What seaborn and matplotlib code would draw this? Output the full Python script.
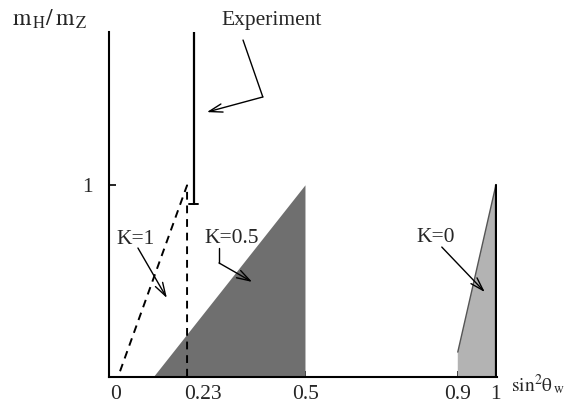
import matplotlib
matplotlib.use("Agg")
import matplotlib.pyplot as plt
import seaborn as sns

# ---- data ----
x_ticks = [0, 0.23, 0.5, 0.9, 1]
x_tick_labels = ["0", "0.23", "0.5", "0.9", "1"]
y_ticks = [1]
y_tick_labels = ["1"]

k1_x = [0.013, 0.189, 0.189]          # K=1 dashed boundary
k1_y = [0.03, 1.0, 0.0]
k05_x = [0.102, 0.5, 0.5]             # K=0.5 allowed region
k05_y = [0.0, 1.0, 0.0]
k0_x = [0.9, 0.9, 1.0, 1.0]           # K=0 allowed region
k0_y = [0.0, 0.13, 1.0, 0.0]
exp_x = [0.207, 0.207]                # experimental value
exp_y = [0.905, 1.8]

sns.set_theme(style="white")
plt.rcParams["font.family"] = ["Liberation Serif", "DejaVu Serif"]
plt.rcParams["mathtext.fontset"] = "stix"

W, H = 570, 408
fig = plt.figure(figsize=(W / 100, H / 100), dpi=100)
ax = fig.add_axes([109 / W, (H - 377) / H, (497 - 109) / W, (377 - 32) / H])
ax.set_xlim(-0.016, 1.003)
ax.set_ylim(0, 1.8)

line_kw = dict(ax=ax, sort=False, estimator=None, legend=False)

# regions
ax.fill(k05_x, k05_y, color="#6f6f6f", lw=0)
ax.fill(k0_x, k0_y, color="#b3b3b3", lw=0)
sns.lineplot(x=k0_x[1:3], y=k0_y[1:3], color="#555555", lw=1.0, **line_kw)
sns.lineplot(x=k0_x[2:4], y=k0_y[2:4], color="black", lw=1.6, **line_kw)

# K=1 dashed
sns.lineplot(x=k1_x, y=k1_y, color="black", lw=1.4, linestyle=(0, (4, 3)), **line_kw)

# experiment line with cap
sns.lineplot(x=exp_x, y=exp_y, color="black", lw=1.6, **line_kw)
ax.plot([exp_x[0] - 0.012, exp_x[0] + 0.012], [exp_y[0], exp_y[0]], color="black", lw=1.4)

# axes styling
for s in ["top", "right"]:
    ax.spines[s].set_visible(False)
for s in ["left", "bottom"]:
    ax.spines[s].set_color("black")
    ax.spines[s].set_linewidth(1.5)
ax.set_xticks(x_ticks)
ax.set_xticklabels(x_tick_labels, fontsize=15.5)
ax.set_yticks(y_ticks)
ax.set_yticklabels(y_tick_labels, fontsize=15.5)
ax.tick_params(axis="x", direction="in", length=4, width=1.2, color="black",
               bottom=True, pad=6)
ax.tick_params(axis="y", direction="in", length=5, width=1.2, color="black",
               left=True, pad=12)
ax.xaxis.get_major_ticks()[0].tick1line.set_visible(False)
ax.set_xlabel("")
ax.set_ylabel("")

# annotations
FS = 15.5
arrow = dict(arrowstyle="->,head_length=0.8,head_width=0.25", color="black", lw=1.0,
             shrinkA=0, shrinkB=0)
ax.text(0.412, 1.86, "Experiment", fontsize=FS, ha="center", va="center", clip_on=False)
ax.plot([0.336, 0.388], [1.758, 1.461], color="black", lw=1.0)
ax.annotate("", xy=(0.241, 1.382), xytext=(0.388, 1.461), arrowprops=arrow)

ax.text(0.055, 0.715, "K=1", fontsize=FS, ha="center", va="center")
ax.annotate("", xy=(0.136, 0.412), xytext=(0.060, 0.673), arrowprops=arrow)

ax.text(0.307, 0.725, "K=0.5", fontsize=FS, ha="center", va="center")
ax.plot([0.273, 0.273], [0.673, 0.595], color="black", lw=1.0)
ax.annotate("", xy=(0.360, 0.496), xytext=(0.273, 0.595), arrowprops=arrow)

ax.text(0.843, 0.730, "K=0", fontsize=FS, ha="center", va="center")
ax.annotate("", xy=(0.971, 0.443), xytext=(0.858, 0.678), arrowprops=arrow)

# axis titles
fig.text(12 / W, 1 - 19 / H, r"$\mathrm{m_{\,H}/\,m_{\,Z}}$", fontsize=17, ha="left", va="center")
fig.text(511 / W, 1 - 385 / H, r"$\mathrm{sin^2θ_{\,w}}$", fontsize=14,
         ha="left", va="center")

fig.savefig("out.png", dpi=100)
